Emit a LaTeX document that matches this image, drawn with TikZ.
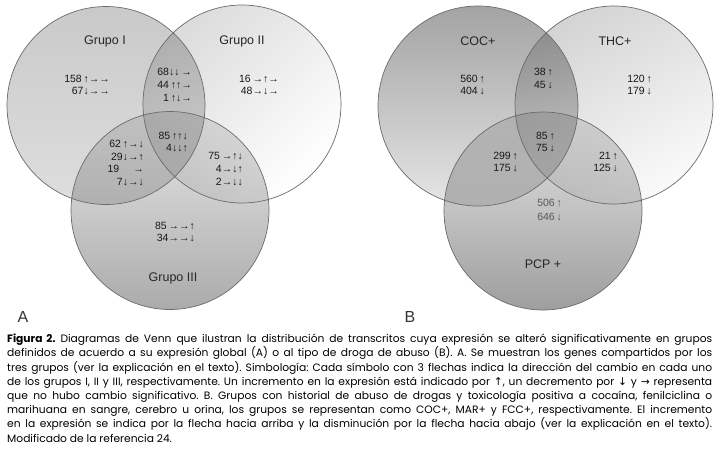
\documentclass[tikz,border=0pt]{standalone}
\usepackage{fontspec}
\setmainfont{Liberation Sans}
\newfontfamily\capfont{Poppins}
\newfontfamily\arrfont{DejaVu Sans}
\usetikzlibrary{positioning}

\begin{document}
\frenchspacing
\begin{tikzpicture}[x=1pt, y=-1pt,
    venn/.style={blend mode=multiply},
    rim/.style={draw=black!58, line width=0.7pt},
    grp/.style={font=\fontsize{12.5}{14}\selectfont, text=black!85},
    num/.style={font=\fontsize{10.5}{12.8}\selectfont, align=right, anchor=east,
        inner sep=0pt, text=black!90},
    pan/.style={font=\fontsize{16}{18}\selectfont, text=black!80}]
\useasboundingbox (0,0) rectangle (719,456);
% panel A
\shade[venn, top color=black!21, bottom color=black!13] (106,105.5) circle (99);
\shade[venn, top color=black!14, bottom color=white, shading angle=45] (242,104) circle (99);
\shade[venn, top color=black!9, bottom color=black!33] (170,210.5) circle (99);
\draw[rim] (106,105.5) circle (99) (242,104) circle (99) (170,210.5) circle (99);
% panel B
\shade[venn, top color=black!36, bottom color=black!10] (478,106) circle (100);
\shade[venn, top color=black!17, bottom color=black!2, shading angle=30] (614,105) circle (99);
\shade[venn, top color=black!10, bottom color=black!38] (543,211) circle (99);
\draw[rim] (478,106) circle (100) (614,105) circle (99) (543,211) circle (99);

\node[grp] (g1) at (105,41) {Grupo I};
\node[grp] (g2) at (242,41) {Grupo II};
\node[grp] (g3) at (173,278) {Grupo III};
\node[num] (a1) at (110,85) {158\,↑→→\\67↓→→};
\node[num] (a12) at (192,85) {68↓↓\,→\\44\,↑↑→\\1\,↑↓→};
\node[num] (a2) at (279,85) {16\,→↑→\\48→↓→};
\node[num] (a123) at (188,142) {85\,↑↑↓\\4↓↓↑};
\node[num] (a13) at (144,163) {62\,↑→↓\\29↓→↑\\19\hspace{14pt}→\\7↓→↓};
\node[num] (a23) at (243,169) {75\,→↑↓\\4→↓↑\\2→↓↓};
\node[num] (a3) at (195,232) {85\,→→↑\\34→→↓};
\node[pan] (pa) at (23,317) {A};

\node[grp] (coc) at (478,41) {COC+};
\node[grp] (thc) at (615,41) {THC+};
\node[grp] (pcp) at (543,264) {PCP +};
\node[num] (b1) at (485,85) {560\,↑\\404\,↓};
\node[num] (b12) at (553,78.5) {38\,↑\\45\,↓};
\node[num] (b2) at (652,85) {120\,↑\\179\,↓};
\node[num] (b123) at (555,142) {85\,↑\\75\,↓};
\node[num] (b13) at (518,162) {299\,↑\\175\,↓};
\node[num] (b23) at (618,162) {21\,↑\\125\,↓};
\node[num, text=black!65, font=\fontsize{10.5}{13.5}\selectfont] (b3) at (562,210) {506\,↑\\646\,↓};
\node[pan] (pb) at (410,317) {B};

\node[anchor=north west, inner sep=0pt, text width=705pt, align=justify,
    font=\capfont\fontsize{10.7}{14.2}\selectfont] (cap) at (7,334)
{{\bfseries Figura 2.} Diagramas de Venn que ilustran la distribución de transcritos cuya expresión se alteró significativamente en grupos\linebreak
definidos de acuerdo a su expresión global (A) o al tipo de droga de abuso (B). A. Se muestran los genes compartidos por los\linebreak
tres grupos (ver la explicación en el texto). Simbología: Cada símbolo con 3 flechas indica la dirección del cambio en cada uno\linebreak
de los grupos I, II y III, respectivamente. Un incremento en la expresión está indicado por {\arrfont ↑}, un decremento por {\arrfont ↓} y {\arrfont →} representa\linebreak
que no hubo cambio significativo. B. Grupos con historial de abuso de drogas y toxicología positiva a cocaína, fenilciclina o\linebreak
marihuana en sangre, cerebro u orina, los grupos se representan como COC+, MAR+ y FCC+, respectivamente. El incremento\linebreak
en la expresión se indica por la flecha hacia arriba y la disminución por la flecha hacia abajo (ver la explicación en el texto).\linebreak
Modificado de la referencia 24.};
\end{tikzpicture}
\end{document}
